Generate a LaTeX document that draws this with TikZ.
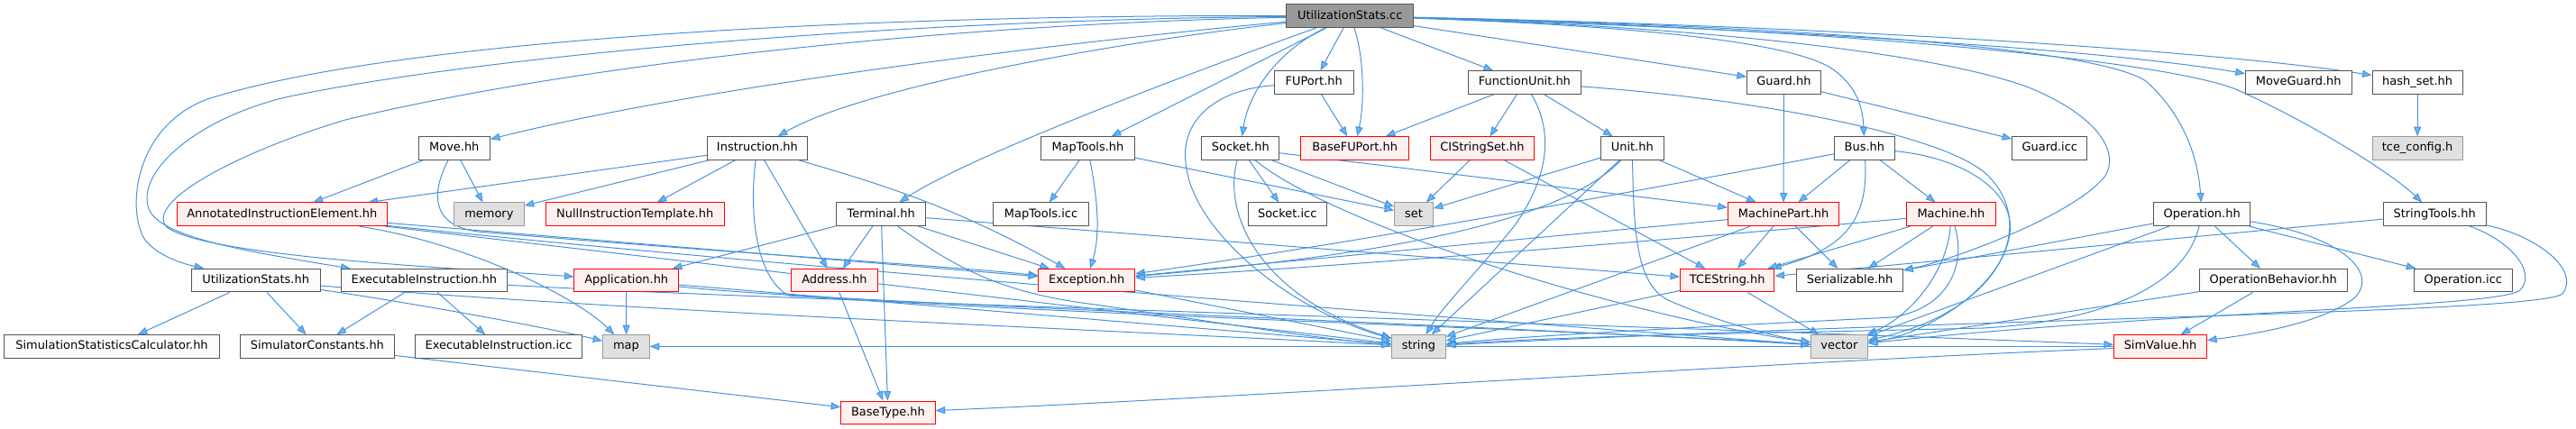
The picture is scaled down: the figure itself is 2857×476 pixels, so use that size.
\documentclass[tikz,border=0pt]{standalone}
\usepackage{fontspec}
\setmainfont{DejaVu Sans}
\usetikzlibrary{arrows.meta,backgrounds}
\definecolor{edgecol}{RGB}{72,146,216}
\definecolor{arrowcol}{HTML}{63B8FF}
\definecolor{wborder}{HTML}{555555}
\definecolor{wfill}{HTML}{FBFCFB}
\definecolor{rfill}{HTML}{FFF0F0}
\definecolor{sysfill}{HTML}{E0E0E0}
\definecolor{sysborder}{HTML}{999999}
\definecolor{rootfill}{HTML}{999999}
\begin{document}
\begin{tikzpicture}[x=1bp,y=-1bp,
  nd/.style={draw=wborder, fill=wfill, line width=1bp, minimum height=25.6bp, inner sep=0pt,
    font=\fontsize{13}{15}\selectfont, text=black, text height=9.5bp, text depth=2.6bp},
  wnode/.style={nd},
  rnode/.style={nd, draw=red, fill=rfill},
  gnode/.style={nd, draw=sysborder, fill=sysfill},
  rootnode/.style={nd, fill=rootfill},
  e/.style={draw=edgecol, line width=1bp, -{Triangle[length=10.5bp,width=8bp,fill=arrowcol]}}
]
\useasboundingbox (0,0) rectangle (2857,476);
% row 0
\node[rootnode, minimum width=140.8bp] (R) at (1497.2,17.8) {UtilizationStats.cc};
% row 1
\node[wnode, minimum width=87.6bp] (fup) at (1457.2,91.5) {FUPort.hh};
\node[wnode, minimum width=124.9bp] (fu) at (1690.9,91.5) {FunctionUnit.hh};
\node[wnode, minimum width=81.9bp] (grd) at (1978.4,91.5) {Guard.hh};
\node[wnode, minimum width=117.7bp] (mg) at (2549.2,91.5) {MoveGuard.hh};
\node[wnode, minimum width=100.2bp] (hs) at (2681.1,91.5) {hash\_set.hh};
% row 2
\node[wnode, minimum width=79.2bp] (mv) at (503.8,164.5) {Move.hh};
\node[wnode, minimum width=110.6bp] (ins) at (839.9,164.5) {Instruction.hh};
\node[wnode, minimum width=103.3bp] (mt) at (1206.4,164.5) {MapTools.hh};
\node[wnode, minimum width=86.1bp] (sock) at (1375.8,164.5) {Socket.hh};
\node[rnode, minimum width=119.4bp] (bfup) at (1502.6,164.5) {BaseFUPort.hh};
\node[rnode, minimum width=114.9bp] (cis) at (1643.9,164.5) {CIStringSet.hh};
\node[wnode, minimum width=69.7bp] (unit) at (1810.3,164.5) {Unit.hh};
\node[wnode, minimum width=66.6bp] (bus) at (2067.9,164.5) {Bus.hh};
\node[wnode, minimum width=83.3bp] (gicc) at (2273.3,164.5) {Guard.icc};
\node[gnode, minimum width=100.2bp] (tce) at (2681.1,164.5) {tce\_config.h};
% row 3
\node[rnode, minimum width=233bp] (aie) at (312.8,237.8) {AnnotatedInstructionElement.hh};
\node[gnode, minimum width=77.7bp] (mem) at (542.4,237.8) {memory};
\node[rnode, minimum width=198.2bp] (nit) at (704.2,237.8) {NullInstructionTemplate.hh};
\node[wnode, minimum width=99.1bp] (term) at (977.2,237.8) {Terminal.hh};
\node[wnode, minimum width=105.2bp] (mticc) at (1154.5,237.8) {MapTools.icc};
\node[wnode, minimum width=86.9bp] (sicc) at (1427.7,237.8) {Socket.icc};
\node[gnode, minimum width=42.8bp] (set) at (1568,237.8) {set};
\node[rnode, minimum width=123.6bp] (mp) at (1978.1,237.8) {MachinePart.hh};
\node[rnode, minimum width=98.8bp] (mach) at (2163.9,237.8) {Machine.hh};
\node[wnode, minimum width=107.2bp] (op) at (2442.2,237.8) {Operation.hh};
\node[wnode, minimum width=114.2bp] (st) at (2700.1,237.8) {StringTools.hh};
% row 4
\node[wnode, minimum width=142.7bp] (ush) at (283.7,311.2) {UtilizationStats.hh};
\node[wnode, minimum width=183.7bp] (eih) at (470.3,311.2) {ExecutableInstruction.hh};
\node[rnode, minimum width=115.5bp] (app) at (694.7,311.2) {Application.hh};
\node[rnode, minimum width=95.6bp] (addr) at (925.4,311.2) {Address.hh};
\node[rnode, minimum width=107.1bp] (exc) at (1205.2,311.2) {Exception.hh};
\node[rnode, minimum width=104.5bp] (tcs) at (1915.7,311.2) {TCEString.hh};
\node[wnode, minimum width=118.2bp] (ser) at (2051.6,311.2) {Serializable.hh};
\node[wnode, minimum width=163.8bp] (ob) at (2521.2,311.2) {OperationBehavior.hh};
\node[wnode, minimum width=108.8bp] (opicc) at (2731.8,311.2) {Operation.icc};
% row 5
\node[wnode, minimum width=238.8bp] (ssc) at (124,384.5) {SimulationStatisticsCalculator.hh};
\node[wnode, minimum width=171bp] (sc) at (351.9,384.5) {SimulatorConstants.hh};
\node[wnode, minimum width=184.6bp] (eicc) at (553,384.5) {ExecutableInstruction.icc};
\node[gnode, minimum width=51.7bp] (map) at (694.5,384.5) {map};
\node[gnode, minimum width=59.7bp] (str) at (1573.4,384.5) {string};
\node[gnode, minimum width=62.8bp] (vec) at (2039.9,384.5) {vector};
\node[rnode, minimum width=103bp] (sv) at (2396,384.5) {SimValue.hh};
% row 6
\node[rnode, minimum width=104.4bp] (bt) at (984.9,457.8) {BaseType.hh};

\begin{scope}[on background layer]
% root
\draw[e] (R) .. controls (1000,16) and (450,40) .. (230,110) .. controls (150,140) and (140,230) .. (160,265) .. controls (175,285) and (205,293) .. (ush);
\draw[e] (R) .. controls (1000,22) and (550,60) .. (321,107) .. controls (220,130) and (150,190) .. (165,232) .. controls (178,262) and (260,277) .. (eih);
\draw[e] (R) .. controls (1000,28) and (600,80) .. (383,133) .. controls (260,170) and (160,225) .. (185,252) .. controls (230,285) and (500,297) .. (app);
\draw[e] (R) .. controls (1250,40) and (800,90) .. (mv);
\draw[e] (R) .. controls (1250,45) and (960,95) .. (ins);
\draw[e] (R) .. controls (1350,70) and (1080,170) .. (term);
\draw[e] (R) -- (mt);
\draw[e] (R) .. controls (1420,55) and (1385,100) .. (sock);
\draw[e] (R) -- (fup);
\draw[e] (R) .. controls (1512,60) and (1514,110) .. (bfup);
\draw[e] (R) -- (fu);
\draw[e] (R) -- (grd);
\draw[e] (R) .. controls (1800,28) and (1980,45) .. (2030,75) .. controls (2060,95) and (2066,120) .. (bus);
\draw[e] (R) .. controls (1900,30) and (2300,50) .. (mg);
\draw[e] (R) .. controls (2000,28) and (2450,55) .. (hs);
\draw[e] (R) .. controls (1950,28) and (2320,50) .. (2380,90) .. controls (2425,130) and (2438,180) .. (op);
\draw[e] (R) .. controls (2000,30) and (2400,65) .. (2482,100) .. controls (2560,135) and (2650,190) .. (st);
\draw[e] (R) .. controls (1900,30) and (2150,60) .. (2250,97) .. controls (2330,130) and (2350,170) .. (2335,195) .. controls (2300,240) and (2160,290) .. (ser);
% Move
\draw[e] (mv) -- (aie);
\draw[e] (mv) -- (mem);
\draw[e] (mv) .. controls (478,215) and (478,250) .. (530,257) .. controls (800,280) and (1050,295) .. (exc);
% AnnotatedInstructionElement
\draw[e] (aie) .. controls (520,270) and (640,330) .. (map);
\draw[e] (aie) -- (exc);
\draw[e] (aie) -- (str);
\draw[e] (aie) .. controls (800,290) and (1500,345) .. (vec);
% Instruction
\draw[e] (ins) -- (aie);
\draw[e] (ins) -- (mem);
\draw[e] (ins) -- (nit);
\draw[e] (ins) -- (addr);
\draw[e] (ins) .. controls (980,205) and (1060,230) .. (exc);
\draw[e] (ins) .. controls (830,240) and (840,310) .. (875,328) .. controls (1200,350) and (1800,368) .. (vec);
% Terminal
\draw[e] (term) -- (app);
\draw[e] (term) -- (addr);
\draw[e] (term) -- (bt);
\draw[e] (term) -- (exc);
\draw[e] (term) -- (tcs);
\draw[e] (term) .. controls (1050,290) and (1100,322) .. (1200,336) .. controls (1350,357) and (1450,375) .. (str);
% Application, Address
\draw[e] (app) -- (map);
\draw[e] (app) -- (str);
\draw[e] (app) .. controls (900,335) and (1600,358) .. (vec);
\draw[e] (addr) -- (bt);
% MapTools
\draw[e] (mt) -- (mticc);
\draw[e] (mt) .. controls (1215,210) and (1222,255) .. (exc);
\draw[e] (mt) -- (set);
% Socket
\draw[e] (sock) -- (sicc);
\draw[e] (sock) -- (set);
\draw[e] (sock) .. controls (1355,240) and (1400,330) .. (str);
\draw[e] (sock) .. controls (1480,250) and (1800,350) .. (vec);
\draw[e] (sock) -- (mp);
% FUPort
\draw[e] (fup) -- (bfup);
\draw[e] (fup) .. controls (1340,100) and (1310,140) .. (1315,180) .. controls (1320,250) and (1420,340) .. (str);
% FunctionUnit
\draw[e] (fu) -- (bfup);
\draw[e] (fu) -- (cis);
\draw[e] (fu) -- (unit);
\draw[e] (fu) .. controls (1725,150) and (1715,200) .. (1680,250) .. controls (1640,300) and (1600,340) .. (str);
\draw[e] (fu) .. controls (1950,110) and (2160,150) .. (2205,195) .. controls (2260,250) and (2220,345) .. (vec);
% CIStringSet
\draw[e] (cis) -- (set);
\draw[e] (cis) -- (tcs);
% Unit
\draw[e] (unit) -- (mp);
\draw[e] (unit) -- (set);
\draw[e] (unit) .. controls (1720,260) and (1450,290) .. (exc);
\draw[e] (unit) -- (str);
\draw[e] (unit) .. controls (1812,260) and (1815,315) .. (1850,333) .. controls (1900,355) and (1960,372) .. (vec);
% Guard
\draw[e] (grd) -- (mp);
\draw[e] (grd) -- (gicc);
% Bus
\draw[e] (bus) -- (mp);
\draw[e] (bus) -- (mach);
\draw[e] (bus) .. controls (1800,215) and (1500,270) .. (exc);
\draw[e] (bus) .. controls (2072,240) and (2050,275) .. (tcs);
\draw[e] (bus) .. controls (2180,175) and (2240,215) .. (2228,265) .. controls (2215,325) and (2130,372) .. (vec);
% MachinePart
\draw[e] (mp) -- (tcs);
\draw[e] (mp) -- (ser);
\draw[e] (mp) -- (exc);
\draw[e] (mp) -- (str);
% Machine
\draw[e] (mach) -- (ser);
\draw[e] (mach) -- (tcs);
\draw[e] (mach) .. controls (1900,262) and (1500,295) .. (exc);
\draw[e] (mach) .. controls (2160,300) and (2120,350) .. (vec);
\draw[e] (mach) .. controls (2180,290) and (2165,340) .. (2100,352) .. controls (1900,362) and (1700,372) .. (str);
% TCEString
\draw[e] (tcs) -- (str);
\draw[e] (tcs) -- (vec);
% Operation
\draw[e] (op) -- (ob);
\draw[e] (op) -- (opicc);
\draw[e] (op) .. controls (2590,260) and (2640,300) .. (2612,330) .. controls (2575,360) and (2490,372) .. (sv);
\draw[e] (op) -- (ser);
\draw[e] (op) -- (vec);
\draw[e] (op) .. controls (2425,310) and (2350,355) .. (2200,364) .. controls (1950,370) and (1750,372) .. (str);
% OperationBehavior
\draw[e] (ob) -- (sv);
\draw[e] (ob) -- (vec);
% StringTools
\draw[e] (st) -- (tcs);
\draw[e] (st) .. controls (2780,265) and (2815,300) .. (2795,322) .. controls (2770,342) and (2400,345) .. (vec);
\draw[e] (st) .. controls (2815,262) and (2862,300) .. (2842,326) .. controls (2815,348) and (2200,352) .. (str);
% SimValue
\draw[e] (sv) .. controls (2000,400) and (1400,440) .. (bt);
\draw[e] (sv) -- (map);
% UtilizationStats.hh, ExecutableInstruction.hh
\draw[e] (ush) -- (ssc);
\draw[e] (ush) -- (sc);
\draw[e] (ush) .. controls (450,335) and (600,362) .. (map);
\draw[e] (ush) .. controls (700,345) and (1200,365) .. (str);
\draw[e] (eih) -- (sc);
\draw[e] (eih) -- (eicc);
\draw[e] (eih) .. controls (900,335) and (1800,360) .. (sv);
% others
\draw[e] (sc) -- (bt);
\draw[e] (exc) -- (str);
\draw[e] (hs) -- (tce);
\end{scope}
\end{tikzpicture}
\end{document}
